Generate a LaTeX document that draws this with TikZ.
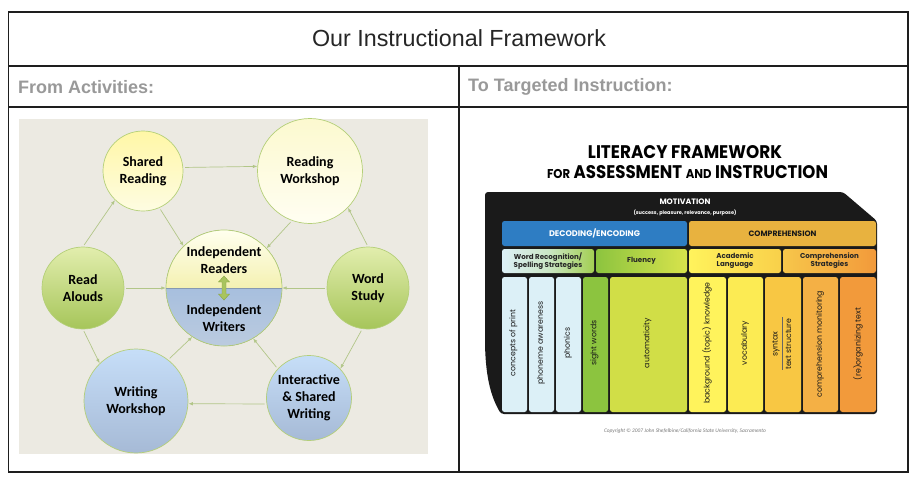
\documentclass[tikz,border=0pt]{standalone}
\usepackage{fontspec}
\setmainfont{Liberation Sans}
\newfontfamily\calfont{Carlito}
\newfontfamily\popfont{Poppins}
\usetikzlibrary{arrows.meta,calc}
\definecolor{tline}{HTML}{1E1E1E}
\definecolor{hgray}{HTML}{999999}
\definecolor{bgc}{HTML}{ECEAE2}
\definecolor{cborder}{HTML}{B4CF78}
\definecolor{arrc}{HTML}{B2C688}
\definecolor{yA}{HTML}{FFF7A6}
\definecolor{yB}{HTML}{FEFCE2}
\definecolor{yC}{HTML}{FCF9CF}
\definecolor{yD}{HTML}{FFFEF2}
\definecolor{gA}{HTML}{E2EEAD}
\definecolor{gB}{HTML}{A6C55A}
\definecolor{bA}{HTML}{C6DEF8}
\definecolor{bB}{HTML}{A6BAD6}
\definecolor{cyA}{HTML}{FFFFEE}
\definecolor{cyB}{HTML}{F4F1B2}
\definecolor{cbA}{HTML}{A7BFDE}
\definecolor{cbB}{HTML}{BBCBDF}
\definecolor{dblarr}{HTML}{A9C45E}
\definecolor{dblarrD}{HTML}{86A23F}
\definecolor{blk}{HTML}{1A1A1A}
\definecolor{decblue}{HTML}{2E7DC3}
\definecolor{compor}{HTML}{E8B23F}
\definecolor{lblue}{HTML}{DCF0F7}
\definecolor{sgreen}{HTML}{8CC43F}
\definecolor{ygreen}{HTML}{D1DE47}
\definecolor{yel1}{HTML}{FFF35C}
\definecolor{yel2}{HTML}{FCEB53}
\definecolor{org1}{HTML}{F8C743}
\definecolor{org2}{HTML}{F4B045}
\definecolor{org3}{HTML}{F29A3B}
\definecolor{wrR}{HTML}{A3CF52}
\definecolor{fluR}{HTML}{D8E34C}
\definecolor{aclR}{HTML}{F9D04A}
\definecolor{cstL}{HTML}{F7C64A}
\definecolor{copyc}{HTML}{7A7A7A}
\begin{document}
\begin{tikzpicture}[x=1pt,y=-1pt,
  circ/.style={circle,draw=cborder,line width=0.7pt,inner sep=0pt,align=center,
    font=\calfont\bfseries\fontsize{14}{17}\selectfont,text=black},
  ctext/.style={align=center,inner sep=0pt,font=\calfont\bfseries\fontsize{14}{17}\selectfont,text=black},
  conn/.style={draw=arrc,line width=0.7pt,-{Latex[length=4.5pt,width=3.5pt]},shorten <=2pt},
  rbox/.style={rectangle,rounded corners=2.5pt,inner sep=0pt,align=center},
  rowone/.style={rbox,minimum height=25pt},
  rowtwo/.style={rbox,minimum height=24pt,font=\popfont\bfseries\fontsize{7.1}{8.2}\selectfont,text=black!85},
  col/.style={rbox,minimum height=135pt},
  clab/.style={rotate=90,inner sep=0pt,font=\popfont\fontsize{7.8}{8}\selectfont,text=black!90}
]
\useasboundingbox (0,0) rectangle (921,482);
\fill[white] (0,0) rectangle (921,482);

% ---- table ----
\draw[tline,line width=1.3pt] (8.5,12) rectangle (908,472);
\draw[tline,line width=1.3pt] (8.5,66) -- (908,66);
\draw[tline,line width=1.3pt] (8.5,107) -- (908,107);
\draw[tline,line width=1.3pt] (459,66) -- (459,472);
\node[font=\fontsize{23.3}{27}\selectfont,text=black!85] (title) at (459,38) {Our Instructional Framework};
\node[anchor=west,inner sep=0pt,font=\bfseries\fontsize{18}{22}\selectfont,text=hgray] (from) at (18,87) {From Activities:};
\node[anchor=west,inner sep=0pt,font=\bfseries\fontsize{18}{22}\selectfont,text=hgray] (to) at (468,87) {To Targeted Instruction:};

% ---- left diagram ----
\fill[bgc] (19,119) rectangle (428,454);
\node[circ,minimum size=80pt,top color=yA,bottom color=yB] (sr) at (143,171) {Shared\\Reading};
\node[circ,minimum size=105pt,top color=yC,bottom color=yD] (rw) at (310,171) {Reading\\Workshop};
\node[circ,minimum size=82pt,top color=gA,bottom color=gB] (ra) at (83,288) {Read\\Alouds};
\node[circ,minimum size=82pt,top color=gA,bottom color=gB] (ws) at (368,288) {Word\\Study};
\node[circ,minimum size=104pt,top color=bA,bottom color=bB] (ww) at (136,401) {Writing\\Workshop};
\node[circ,minimum size=85pt,top color=bA,bottom color=bB] (isw) at (309,398) {Interactive\\\& Shared\\Writing};
% centre circle
\fill[top color=cyA,bottom color=cyB] (166,288) arc[start angle=180,end angle=0,radius=58pt] -- cycle;
\fill[top color=cbA,bottom color=cbB] (166,288) arc[start angle=180,end angle=360,radius=58pt] -- cycle;
\draw[cborder,line width=0.7pt] (224,288) circle[radius=58pt];
\draw[cbA!80!black,line width=0.5pt] (166,288) -- (282,288);
\node[circle,minimum size=116pt,inner sep=0pt] (ctr) at (224,288) {};
\node[ctext] (ir) at (224,260) {Independent\\Readers};
\node[ctext] (iw) at (224,318) {Independent\\Writers};
\fill[dblarr,draw=dblarrD,line width=0.4pt] (224,276) -- (229.5,282) -- (226,282) -- (226,294) -- (229.5,294) -- (224,300) -- (218.5,294) -- (222,294) -- (222,282) -- (218.5,282) -- cycle;

\draw[conn] (sr.5) -- (rw.175);
\draw[conn] (ra.90) -- (sr.226);
\draw[conn] (sr.294) -- (ctr.134);
\draw[conn] (rw.250) -- (ctr.43);
\draw[conn] (ws.90) -- (rw.316);
\draw[conn] (ra.0) -- (ctr.180);
\draw[conn] (ws.180) -- (ctr.0);
\draw[conn] (ra.270) -- (ww.134);
\draw[conn] (ww.52) -- (ctr.237);
\draw[conn] (isw.188) -- (ww.357);
\draw[conn] (isw.137) -- (ctr.300);
\draw[conn] (ws.262) -- (isw.43);

% ---- right diagram ----
\node[inner sep=0pt] (lf1) at (685,152) {\resizebox{194pt}{13pt}{\popfont\bfseries LITERACY FRAMEWORK}};
\node[inner sep=0pt] (lf2) at (687.5,172) {\resizebox{281pt}{13pt}{\popfont\bfseries {\fontsize{7}{8}\selectfont FOR} ASSESSMENT {\fontsize{7}{8}\selectfont AND} INSTRUCTION}};
\fill[blk,rounded corners=3pt] (485,192) -- (843,192) -- (877,221) -- (877,414) -- (501,414) .. controls (490,395) and (486,375) .. (485,345) -- cycle;
\node[inner sep=0pt,text=white] (mot) at (685,202) {\resizebox{51pt}{!}{\popfont\bfseries MOTIVATION}};
\node[inner sep=0pt,text=white] (motsub) at (685,213) {\resizebox{103pt}{!}{\popfont\bfseries (success, pleasure, relevance, purpose)}};

\node[rowone,fill=decblue,minimum width=185pt,text=white] (dec) at (594.5,233.5) {\resizebox{91pt}{!}{\popfont\bfseries DECODING/ENCODING}};
\node[rowone,fill=compor,minimum width=187pt,text=black!90] (comp) at (782.5,233.5) {\resizebox{68pt}{!}{\popfont\bfseries COMPREHENSION}};

\node[rowtwo,left color=lblue,right color=wrR,middle color=lblue!70!wrR,minimum width=92pt] (wr) at (548,261) {Word Recognition/\\Spelling Strategies};
\node[rowtwo,left color=sgreen,right color=fluR,minimum width=91pt] (flu) at (641.5,261) {Fluency};
\node[rowtwo,left color=yel1,right color=aclR,minimum width=92pt] (acl) at (735,261) {Academic\\Language};
\node[rowtwo,left color=cstL,right color=org3,minimum width=93pt] (cst) at (829.5,261) {Comprehension\\Strategies};

\node[col,fill=lblue,minimum width=25pt] (c1) at (514.5,344.5) {};
\node[col,fill=lblue,minimum width=25pt] (c2) at (541.5,344.5) {};
\node[col,fill=lblue,minimum width=25pt] (c3) at (568.5,344.5) {};
\node[col,fill=sgreen,minimum width=25pt] (c4) at (595.5,344.5) {};
\node[col,fill=ygreen,minimum width=77pt] (c5) at (648.5,344.5) {};
\node[col,fill=yel1,minimum width=37pt] (c6) at (707.5,344.5) {};
\node[col,fill=yel2,minimum width=35pt] (c7) at (745.5,344.5) {};
\node[col,fill=org1,minimum width=36pt] (c8) at (783,344.5) {};
\node[col,fill=org2,minimum width=35pt] (c9) at (820.5,344.5) {};
\node[col,fill=org3,minimum width=36pt] (c10) at (858,344.5) {};

\node[clab] (t1) at (513.5,343) {concepts of print};
\node[clab] (t2) at (541,343) {phoneme awareness};
\node[clab] (t3) at (568,343) {phonics};
\node[clab] (t4) at (594.5,343) {sight words};
\node[clab] (t5) at (647.5,343) {automaticity};
\node[clab] (t6) at (707,343) {background (topic) knowledge};
\node[clab] (t7) at (745,343) {vocabulary};
\node[clab] (t8a) at (776,344) {syntax};
\node[clab] (t8b) at (788.5,344) {text structure};
\draw[black!60,line width=0.4pt] (782,317) -- (782,370);
\node[clab] (t9) at (820,344) {comprehension monitoring};
\node[clab] (t10) at (858,344) {(re)organizing text};

\node[inner sep=0pt,text=copyc] (copy) at (685,431) {\resizebox{162pt}{!}{\calfont\itshape Copyright \copyright{} 2007 John Shefelbine/California State University, Sacramento}};
\end{tikzpicture}
\end{document}
